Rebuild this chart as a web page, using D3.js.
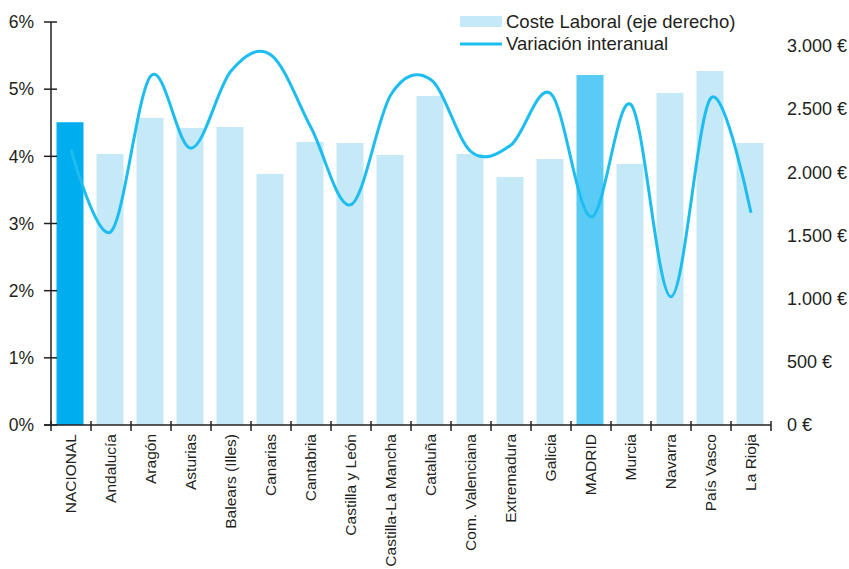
<!DOCTYPE html>
<html><head><meta charset="utf-8">
<script src="https://cdn.jsdelivr.net/npm/d3@7"></script>
<style>body{margin:0;background:#fff}svg{display:block;font-family:"Liberation Sans",Arial,sans-serif}</style>
</head><body><svg id="c" width="849" height="569"></svg>
<script>
const categories = ["NACIONAL","Andalucía","Aragón","Asturias","Balears (Illes)","Canarias","Cantabria","Castilla y León","Castilla-La Mancha","Cataluña","Com. Valenciana","Extremadura","Galicia","MADRID","Murcia","Navarra","País Vasco","La Rioja"];
const costeLaboral = [2395,2144,2429,2350,2358,1986,2239,2231,2136,2603,2144,1962,2104,2769,2065,2627,2801,2231];
const variacion = [4.10,2.88,5.20,4.12,5.27,5.51,4.43,3.28,4.92,5.14,4.07,4.17,4.93,3.10,4.77,1.91,4.87,3.16];
const leftTicks = [0,1,2,3,4,5,6];
const rightTicks = [0,500,1000,1500,2000,2500,3000];
const legendLabels = ["Coste Laboral (eje derecho)","Variación interanual"];

const svg = d3.select("#c");
const L = 51, R = 771, T = 22, B = 425;
const x = d3.scaleBand().domain(categories).range([L, R]).paddingInner(0.325).paddingOuter(0.1625);
const yL = d3.scaleLinear().domain([0,6]).range([B,T]);
const yR = d3.scaleLinear().domain([0,3188]).range([B,T]);
const band = d3.scaleBand().domain(categories).range([L,R]);
const axisColor = "#231f20";

function barColor(c){ return c==="NACIONAL" ? "#00aeef" : (c==="MADRID" ? "#59cbf5" : "#c6e9f8"); }

svg.append("g").selectAll("rect").data(categories).join("rect")
  .attr("x", d => x(d) - 1)
  .attr("width", x.bandwidth())
  .attr("y", (d,i) => yR(costeLaboral[i]))
  .attr("height", (d,i) => B - yR(costeLaboral[i]))
  .attr("fill", d => barColor(d));

const line = d3.line()
  .x((d,i) => band(categories[i]) + band.bandwidth()/2)
  .y(d => yL(d))
  .curve(d3.curveCatmullRom.alpha(0));
svg.append("path").datum(variacion).attr("d", line)
  .attr("fill","none").attr("stroke","#1ebdf0").attr("stroke-width",3);

// left axis
const gl = svg.append("g");
gl.append("line").attr("x1",L).attr("x2",L).attr("y1",T).attr("y2",B).attr("stroke",axisColor).attr("stroke-width",1.5);
gl.selectAll(".t").data(leftTicks).join("line")
  .attr("x1",L-7).attr("x2",L+6).attr("y1",d=>yL(d)).attr("y2",d=>yL(d))
  .attr("stroke",axisColor).attr("stroke-width",1.5);
gl.selectAll("text").data(leftTicks).join("text")
  .attr("x",34).attr("y",d=>yL(d)).attr("dy","0.36em").attr("text-anchor","end")
  .attr("font-size",17.5).attr("fill","#231f20").text(d=>d+"%");

// bottom axis
const gb = svg.append("g");
gb.append("line").attr("x1",L-7).attr("x2",R).attr("y1",B).attr("y2",B).attr("stroke",axisColor).attr("stroke-width",1.5);
const tickXs = categories.map(c=>band(c)).concat([R]);
gb.selectAll(".t").data(tickXs).join("line")
  .attr("x1",d=>d).attr("x2",d=>d).attr("y1",B-4).attr("y2",B+6)
  .attr("stroke",axisColor).attr("stroke-width",1.5);
gb.selectAll("text").data(categories).join("text")
  .attr("transform", d => `translate(${band(d)+band.bandwidth()/2},434) rotate(-90)`)
  .attr("dy","0.35em").attr("text-anchor","end")
  .attr("font-size",15.5).attr("fill","#231f20").text(d=>d);

// right axis labels
const fmt = v => d3.format(",")(v).replace(/,/g,".") + " €";
svg.append("g").selectAll("text").data(rightTicks).join("text")
  .attr("x",787).attr("y",d=>yR(d)).attr("dy","0.36em")
  .attr("font-size",18).attr("fill","#231f20").text(fmt);

// legend
const lg = svg.append("g");
lg.append("rect").attr("x",460).attr("y",16).attr("width",42).attr("height",11).attr("fill","#c6e9f8");
lg.append("line").attr("x1",460).attr("x2",502).attr("y1",44).attr("y2",44).attr("stroke","#1ebdf0").attr("stroke-width",3);
lg.selectAll("text").data(legendLabels).join("text")
  .attr("x",506).attr("y",(d,i)=>21+i*22).attr("dy","0.36em")
  .attr("font-size",18.5).attr("fill","#231f20").text(d=>d);
</script></body></html>
